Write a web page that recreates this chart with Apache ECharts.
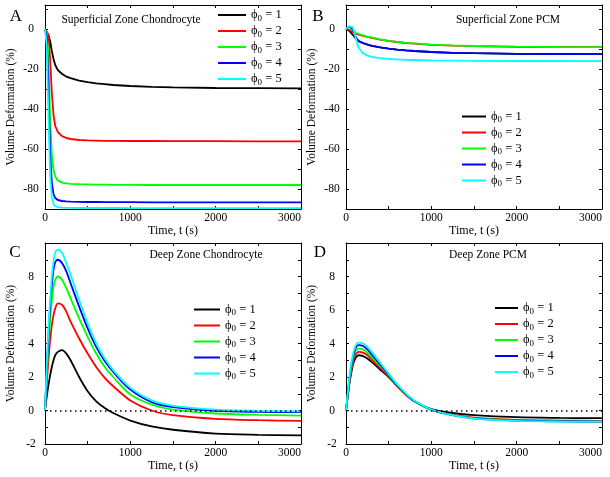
<!DOCTYPE html>
<html><head><meta charset="utf-8">
<script src="https://cdn.jsdelivr.net/npm/echarts@6/dist/echarts.min.js"></script>
<style>html,body{margin:0;padding:0;background:#fff}#c{width:610px;height:477px}</style>
</head><body><div id="c"></div>
<script>
// ---- data ----
const T = [0,20,40,60,80,100,120,150,200,250,300,400,500,600,700,800,1000,1250,1500,2000,2500,3000];
const phiValues = ['1','2','3','4','5'];
const colors = ['#000000','#ff0000','#00ff00','#0000ff','#00ffff'];
const titles = ['Superficial Zone Chondrocyte','Superficial Zone PCM','Deep Zone Chondrocyte','Deep Zone PCM'];
const panelLetters = ['A','B','C','D'];
const xTickValues = [0,500,1000,1500,2000,2500,3000];
const xLabelValues = [0,1000,2000,3000];
const yTickTop = [-90,-80,-70,-60,-50,-40,-30,-20,-10,0,10];
const yLabelTop = [-80,-60,-40,-20,0];
const yTickBot = [-2,-1,0,1,2,3,4,5,6,7,8,9,10];
const yLabelBot = [-2,0,2,4,6,8];

// Panel A: Superficial Zone Chondrocyte
const A1 = [0,-1,-3,-6,-11,-15,-18,-20.5,-22.5,-23.8,-24.6,-25.8,-26.6,-27.2,-27.6,-28.0,-28.5,-28.9,-29.2,-29.5,-29.6,-29.7];
const A2 = [0,-0.5,-3,-15,-32,-43,-48.5,-51.5,-53.6,-54.5,-55,-55.5,-55.7,-55.8,-55.9,-55.9,-56,-56,-56.1,-56.1,-56.2,-56.2];
const A3 = [0,-2,-15,-45,-63,-70.5,-73.8,-75.7,-76.8,-77.2,-77.4,-77.6,-77.7,-77.8,-77.8,-77.9,-77.9,-78,-78,-78,-78,-78];
const A4 = [0,-4,-28,-62,-77,-82.5,-84.5,-85.5,-86,-86.2,-86.3,-86.4,-86.5,-86.5,-86.6,-86.6,-86.6,-86.7,-86.7,-86.7,-86.7,-86.7];
const A5 = [0,-8,-42,-73,-84,-87.5,-88.6,-89.1,-89.3,-89.4,-89.4,-89.5,-89.5,-89.5,-89.5,-89.5,-89.6,-89.6,-89.6,-89.6,-89.6,-89.6];
// Panel B: Superficial Zone PCM
const B1 = [0,-0.5,-1,-2,-3,-4,-5,-6.2,-7.1,-7.8,-8.4,-9.2,-9.8,-10.3,-10.7,-11,-11.5,-11.9,-12.1,-12.4,-12.5,-12.6];
const B2 = [0,0,-0.5,-1,-1.5,-2,-2.4,-2.8,-3.4,-3.9,-4.4,-5.3,-6,-6.5,-7,-7.3,-7.9,-8.3,-8.6,-8.9,-9,-9.1];
const B3 = [0,0.5,1,0.8,-0.5,-1.5,-2,-2.5,-3.2,-3.8,-4.2,-5.2,-5.9,-6.4,-6.9,-7.2,-7.8,-8.2,-8.5,-8.8,-9,-9.1];
const B4 = [0,0.5,1.2,1.2,0,-2.5,-4.5,-6,-7,-7.7,-8.3,-9.2,-9.8,-10.3,-10.7,-11,-11.5,-11.9,-12.1,-12.4,-12.5,-12.6];
const B5 = [0,0.6,1.3,1.5,0.8,-2,-5.5,-9.5,-12.2,-13.3,-13.9,-14.6,-15,-15.2,-15.4,-15.5,-15.7,-15.8,-15.9,-16,-16,-16.1];
// Panel C: Deep Zone Chondrocyte
const C1 = [0,0.8,1.5,2.1,2.6,3.0,3.3,3.5,3.6,3.4,3.0,2.0,1.15,0.55,0.15,-0.15,-0.6,-0.95,-1.15,-1.38,-1.45,-1.48];
const C2 = [0,1.6,3.0,4.2,5.1,5.7,6.1,6.4,6.3,5.9,5.3,4.3,3.4,2.6,1.95,1.45,0.6,0.0,-0.28,-0.5,-0.58,-0.62];
const C3 = [0,2.1,3.9,5.4,6.6,7.4,7.8,8.0,7.8,7.3,6.7,5.5,4.4,3.4,2.6,2.0,0.95,0.35,0.05,-0.18,-0.26,-0.3];
const C4 = [0,2.4,4.5,6.2,7.5,8.4,8.85,9.0,8.8,8.3,7.6,6.2,4.9,3.8,2.95,2.3,1.25,0.5,0.2,-0.02,-0.08,-0.1];
const C5 = [0,2.6,4.8,6.6,8.0,8.9,9.45,9.6,9.4,8.8,8.1,6.6,5.2,4.0,3.1,2.4,1.35,0.6,0.28,0.05,-0.02,-0.05];
// Panel D: Deep Zone PCM
const D1 = [0,0.8,1.6,2.2,2.7,3.0,3.2,3.3,3.25,3.1,2.9,2.45,2.0,1.45,0.95,0.55,0.08,-0.15,-0.28,-0.4,-0.44,-0.46];
const D2 = [0,0.85,1.7,2.35,2.85,3.2,3.4,3.5,3.45,3.3,3.05,2.55,2.05,1.45,0.95,0.55,0.05,-0.25,-0.42,-0.56,-0.6,-0.62];
const D3 = [0,0.9,1.8,2.5,3.0,3.4,3.6,3.7,3.65,3.45,3.2,2.65,2.1,1.5,0.98,0.56,0.04,-0.28,-0.46,-0.6,-0.64,-0.65];
const D4 = [0,0.95,1.9,2.6,3.15,3.55,3.8,3.9,3.85,3.65,3.35,2.75,2.15,1.52,1.0,0.58,0.05,-0.28,-0.47,-0.61,-0.65,-0.66];
const D5 = [0,1.0,2.0,2.75,3.3,3.7,3.95,4.05,4.0,3.8,3.5,2.85,2.2,1.56,1.02,0.6,0.06,-0.28,-0.48,-0.62,-0.66,-0.67];

const panels = [[A1,A2,A3,A4,A5],[B1,B2,B3,B4,B5],[C1,C2,C3,C4,C5],[D1,D2,D3,D4,D5]];

// ---- layout ----
const FONT = 'Liberation Serif';
const grids = [
  {left:45, top:5, width:256, height:204},
  {left:346, top:5, width:256, height:204},
  {left:45, top:243, width:256, height:201},
  {left:346, top:243, width:256, height:201}
];
const yRanges = [[-90,12],[-90,12],[-2,10],[-2,10]];
const legendPos = [
  {left:218, top:7, w:28},
  {left:462, top:108.5, w:24},
  {left:194, top:301.5, w:26},
  {left:495, top:300, w:23}
];
const titlePos = [[131,20],[508,20],[206,255],[488,255]];
const letterPos = [[16,17],[318,17],[15,253],[320,253]];

const names = phiValues.map(v => 'phi' + v);
const xAxes = [], yAxes = [], series = [], legends = [], graphics = [];
const tick = vals => ({show:true, inside:true, length:3, customValues:vals, lineStyle:{color:'#000', width:1}});
const line = {show:true, onZero:false, lineStyle:{color:'#000', width:1}};
grids.forEach((g, i) => {
  const top = i < 2;
  const yT = top ? yTickTop : yTickBot;
  const yL = top ? yLabelTop : yLabelBot;
  xAxes.push({type:'value', gridIndex:i, min:0, max:3000, position:'bottom',
    name:'Time, t (s)', nameLocation:'middle', nameGap:13,
    nameTextStyle:{fontFamily:FONT, fontSize:12, color:'#000'},
    axisLine:line, axisTick:tick(xTickValues),
    axisLabel:{show:true, customValues:xLabelValues, margin:3, fontFamily:FONT, fontSize:11.5, color:'#000',
      alignMaxLabel:'right', formatter: v => String(v)},
    splitLine:{show:false}});
  xAxes.push({type:'value', gridIndex:i, min:0, max:3000, position:'top',
    axisLine:line, axisTick:tick(xTickValues),
    axisLabel:{show:false}, splitLine:{show:false}});
  yAxes.push({type:'value', gridIndex:i, min:yRanges[i][0], max:yRanges[i][1], position:'left',
    name:'Volume Deformation (%)', nameLocation:'middle', nameGap:28,
    nameTextStyle:{fontFamily:FONT, fontSize:11.5, color:'#000'},
    axisLine:line, axisTick:tick(yT),
    axisLabel:{show:true, customValues:yL, margin:14, align:'center', fontFamily:FONT, fontSize:11.5, color:'#000',
      formatter: v => String(v)},
    splitLine:{show:false}});
  yAxes.push({type:'value', gridIndex:i, min:yRanges[i][0], max:yRanges[i][1], position:'right',
    axisLine:line, axisTick:tick(yT),
    axisLabel:{show:false}, splitLine:{show:false}});
  panels[i].forEach((arr, k) => {
    const s = {type:'line', name:names[k], xAxisIndex:2*i, yAxisIndex:2*i,
      data:T.map((t, j) => [t, arr[j]]), symbol:'none', showSymbol:false,
      smooth: top ? false : 0.3,
      lineStyle:{color:colors[k], width:1.8}, itemStyle:{color:colors[k]},
      emphasis:{disabled:true}, animation:false};
    if (!top && k === 0) {
      s.markLine = {symbol:'none', silent:true, animation:false, label:{show:false},
        lineStyle:{color:'#000', type:[1.5,3.5], width:1.5}, emphasis:{disabled:true},
        data:[{yAxis:0}]};
    }
    series.push(s);
  });
  const lp = legendPos[i];
  legends.push({orient:'vertical', left:lp.left, top:lp.top, itemWidth:lp.w, itemHeight:2,
    itemGap:0, icon:'rect', data:names, selectedMode:false, padding:0,
    formatter: n => '{p|ϕ}{s|0}{t| = ' + n.replace('phi','') + '}',
    textStyle:{fontFamily:FONT, color:'#000',
      rich:{p:{fontFamily:FONT, fontSize:12.5, lineHeight:14, color:'#000'},
            s:{fontFamily:FONT, fontSize:9, lineHeight:9, padding:[7,0,0,0], color:'#000'},
            t:{fontFamily:FONT, fontSize:12.5, lineHeight:14, color:'#000'}}}});
  graphics.push({type:'text', x:titlePos[i][0], y:titlePos[i][1], silent:true,
    style:{text:titles[i], fontFamily:FONT, fontSize:11.5, fill:'#000', textAlign:'center', textVerticalAlign:'middle'}});
  graphics.push({type:'text', x:letterPos[i][0], y:letterPos[i][1], silent:true,
    style:{text:panelLetters[i], fontFamily:FONT, fontSize:17, fill:'#000', textAlign:'center', textVerticalAlign:'middle'}});
});

const chart = echarts.init(document.getElementById('c'), null, {renderer:'canvas'});
chart.setOption({
  animation:false,
  backgroundColor:'#fff',
  grid: grids.map(g => Object.assign({containLabel:false, show:false}, g)),
  xAxis: xAxes, yAxis: yAxes, series: series, legend: legends, graphic: graphics
});
</script></body></html>
